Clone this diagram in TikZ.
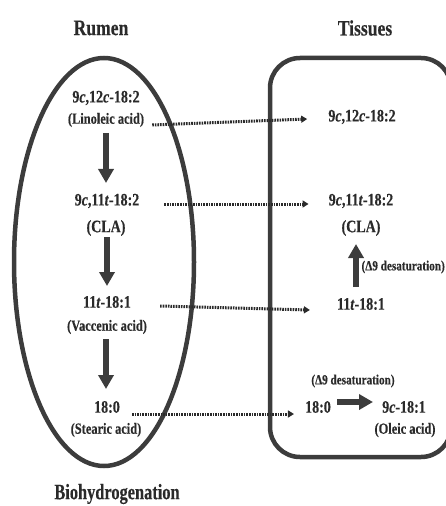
\documentclass[tikz,border=0pt]{standalone}
\usepackage{fontspec}
\usetikzlibrary{arrows.meta,calc}
\newfontfamily\lbl{Liberation Serif Bold}[FakeStretch=0.8,FakeBold=0.3,ItalicFont=Liberation Serif Bold Italic]
\definecolor{ink}{HTML}{2A2A2A}
\definecolor{frame}{HTML}{3C3C3C}
\begin{document}
\begin{tikzpicture}[x=1bp,y=-1bp,
  title/.style={font=\lbl\fontsize{22bp}{24bp}\selectfont,text=ink,inner sep=0pt},
  main/.style={font=\lbl\fontsize{17.5bp}{19bp}\selectfont,text=ink,inner sep=1pt},
  sub/.style={font=\lbl\fontsize{15.5bp}{17bp}\selectfont,text=ink,inner sep=1pt},
  note/.style={font=\lbl\fontsize{14bp}{16bp}\selectfont,text=ink,inner sep=1pt},
  outline/.style={draw=frame,line width=4.5bp},
  bigarrow/.style={draw=frame,line width=6.5bp,-{Triangle[width=15bp,length=14bp]}},
  dotarrow/.style={draw=ink,line width=3bp,dash pattern=on 1.6bp off 1bp,
    -{Triangle[width=7bp,length=6bp]}}]
\useasboundingbox (0,0) rectangle (446,506);
\begin{scope}
\clip (0,0) rectangle (446,506);

% compartments
\draw[outline] (104,262) ellipse [x radius=90, y radius=204];
\draw[outline,rounded corners=30bp] (270,58) rectangle (451,457);

% headings
\node[title] (rumen) at (101,28) {Rumen};
\node[title] (tissues) at (365,28) {Tissues};
\node[title,xscale=0.93] (bh) at (117,494) {Biohydrogenation};

% rumen side
\node[main] (l1) at (106,98) {9\textit{c},12\textit{c}-18:2};
\node[sub]  (l1b) at (106,120) {(Linoleic acid)};
\node[main] (l2) at (107,201) {9\textit{c},11\textit{t}-18:2};
\node[main] (l2b) at (106,228) {(CLA)};
\node[main] (l3) at (107,302) {11\textit{t}-18:1};
\node[sub]  (l3b) at (107,327) {(Vaccenic acid)};
\node[main] (l4) at (107,407) {18:0};
\node[sub]  (l4b) at (106,430) {(Stearic acid)};

% tissue side
\node[main] (r1) at (362,117) {9\textit{c},12\textit{c}-18:2};
\node[main] (r2) at (361,201) {9\textit{c},11\textit{t}-18:2};
\node[main] (r2b) at (361,228) {(CLA)};
\node[main] (r3) at (361,304) {11\textit{t}-18:1};
\node[note,anchor=east] (d1) at (446,267) {(Δ9 desaturation)};
\node[note] (d2) at (353,381) {(Δ9 desaturation)};
\node[main] (r4) at (318,407) {18:0};
\node[main] (r5) at (404,407) {9\textit{c}-18:1};
\node[sub]  (r5b) at (405,430) {(Oleic acid)};

% arrow ends
\coordinate (a1s) at (106,133); \coordinate (a1e) at (106,183);
\coordinate (a2s) at (107,237); \coordinate (a2e) at (107,286);
\coordinate (a3s) at (106,339); \coordinate (a3e) at (106,389);
\coordinate (u1s) at (356,287); \coordinate (u1e) at (356,244);
\coordinate (h1s) at (337,402); \coordinate (h1e) at (373,402);

% biohydrogenation steps
\draw[bigarrow] (a1s) -- (a1e);
\draw[bigarrow] (a2s) -- (a2e);
\draw[bigarrow] (a3s) -- (a3e);

% desaturation in tissues
\draw[bigarrow] (u1s) -- (u1e);
\draw[bigarrow] (h1s) -- (h1e);

% transfer to tissues
\draw[dotarrow] ([xshift=7bp,yshift=-5bp]l1b.east) -- ([xshift=-20bp,yshift=-2bp]r1.west);
\draw[dotarrow] ([xshift=24bp,yshift=-3bp]l2.east) -- ([xshift=-19bp,yshift=-3bp]r2.west);
\draw[dotarrow] ([xshift=28bp,yshift=-4bp]l3.east) -- ([xshift=-26bp,yshift=-6bp]r3.west);
\draw[dotarrow] ([xshift=11bp,yshift=-7bp]l4.east) -- ([xshift=-10bp,yshift=-7bp]r4.west);
\end{scope}
\end{tikzpicture}
\end{document}
